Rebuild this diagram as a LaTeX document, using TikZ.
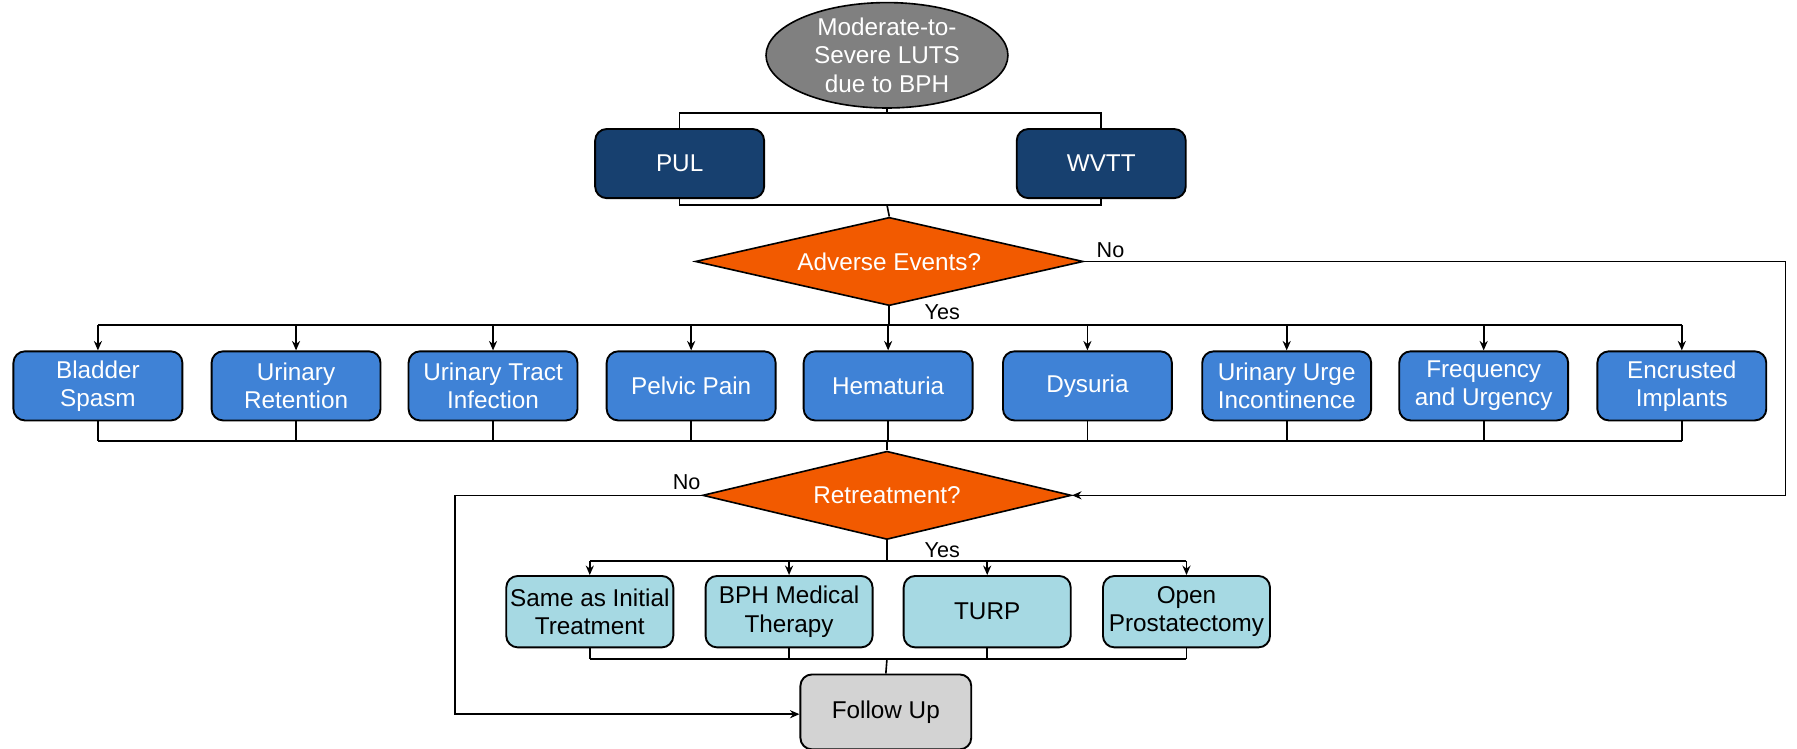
\documentclass[tikz,border=0pt]{standalone}
\usepackage{fontspec}
\setmainfont{Liberation Sans}
\usetikzlibrary{shapes.geometric,arrows.meta}
\definecolor{dblue}{HTML}{17406F}
\definecolor{mblue}{HTML}{3F82D6}
\definecolor{lcyan}{HTML}{A6D9E3}
\definecolor{orng}{HTML}{F25A00}
\definecolor{egray}{HTML}{808080}
\definecolor{fgray}{HTML}{D3D3D3}
\begin{document}
\begin{tikzpicture}[x=0.03cm,y=-0.03cm,
  every node/.style={font=\fontsize{18}{21}\selectfont, align=center},
  box/.style={draw=black, line width=1.4pt, rounded corners=0.3cm, minimum width=4.4cm, minimum height=1.8cm, inner sep=0pt},
  dbox/.style={box, fill=dblue, text=white},
  mbox/.style={box, fill=mblue, text=white},
  lbox/.style={box, fill=lcyan, text=black, minimum width=4.35cm, minimum height=1.86cm},
  dia/.style={diamond, aspect=4.4, draw=black, line width=1.2pt, fill=orng, text=white, inner sep=0pt},
  ln/.style={line width=1.2pt},
  ar/.style={ln, -{Stealth[length=7pt,width=6pt]}}]
\useasboundingbox (0,0) rectangle (1560,650);
\node[ellipse, draw=black, line width=1.2pt, fill=egray, text=white, minimum width=6.3cm, minimum height=2.7cm, inner sep=0pt] (start) at (770,48) {Moderate-to-\\Severe LUTS\\due to BPH};
\node[dbox] (pul) at (590,142) {PUL};
\node[dbox] (wvtt) at (956,142) {WVTT};
\node[dia, minimum width=10.1cm, minimum height=2.3cm] (ae) at (772,227) {Adverse Events?};
\foreach \n/\x/\t in {b1/85/{Bladder\\Spasm}, b2/257/{Urinary\\Retention}, b3/428/{Urinary Tract\\Infection}, b4/600/{Pelvic Pain}, b5/771/{Hematuria}, b6/944/{Dysuria}, b7/1117/{Urinary Urge\\Incontinence}, b8/1288/{Frequency\\and Urgency}, b9/1460/{Encrusted\\Implants}}
  \node[mbox] (\n) at (\x,335) {\t};
\node[dia, minimum width=9.6cm, minimum height=2.3cm] (rt) at (770,430) {Retreatment?};
\foreach \n/\x/\t in {c1/512/{Same as Initial\\Treatment}, c2/685/{BPH Medical\\Therapy}, c3/857/{TURP}, c4/1030/{Open\\Prostatectomy}}
  \node[lbox] (\n) at (\x,531) {\t};
\node[box, fill=fgray, text=black, minimum width=4.45cm, minimum height=1.95cm] (fu) at (769,618) {Follow Up};
% top brackets
\coordinate (t1) at (770,98);
\draw[ln] (start.south) -- (t1);
\draw[ln] (pul.north) -- (pul.north |- t1) -- (wvtt.north |- t1) -- (wvtt.north);
\coordinate (t2) at (770,178);
\draw[ln] (pul.south) -- (pul.south |- t2) -- (wvtt.south |- t2) -- (wvtt.south);
\draw[ln] (t2) -- (ae.north);
% yes branch
\coordinate (y1) at (772,282);
\draw[ln] (ae.south) -- (y1);
\draw[ln] (b1.north |- y1) -- (b9.north |- y1);
\foreach \n in {b1,b2,b3,b4,b5,b6,b7,b8,b9} \draw[ar] (\n.north |- y1) -- (\n.north);
\node[font=\fontsize{16}{19}\selectfont] at (818,271) {Yes};
\coordinate (y2) at (770,383);
\draw[ln] (b1.south |- y2) -- (b9.south |- y2);
\foreach \n in {b1,b2,b3,b4,b5,b6,b7,b8,b9} \draw[ln] (\n.south) -- (\n.south |- y2);
\draw[ln] (y2) -- (rt.north);
% no from adverse
\coordinate (n1) at (1550,227);
\coordinate (n2) at (1550,430);
\draw[ar] (ae.east) -- (n1) -- (n2) -- (rt.east);
\node[font=\fontsize{16}{19}\selectfont] at (964,217) {No};
% retreatment yes
\coordinate (y3) at (770,487);
\draw[ln] (rt.south) -- (y3);
\draw[ln] (c1.north |- y3) -- (c4.north |- y3);
\foreach \n in {c1,c2,c3,c4} \draw[ar] (\n.north |- y3) -- (\n.north);
\node[font=\fontsize{16}{19}\selectfont] at (818,478) {Yes};
\coordinate (y4) at (770,572);
\draw[ln] (c1.south |- y4) -- (c4.south |- y4);
\foreach \n in {c1,c2,c3,c4} \draw[ln] (\n.south) -- (\n.south |- y4);
\draw[ln] (y4) -- (fu.north);
% retreatment no
\coordinate (m1) at (395,430);
\coordinate (m2) at (395,620);
\draw[ar] (rt.west) -- (m1) -- (m2) -- (fu.west |- m2);
\node[font=\fontsize{16}{19}\selectfont] at (596,419) {No};
\end{tikzpicture}
\end{document}
